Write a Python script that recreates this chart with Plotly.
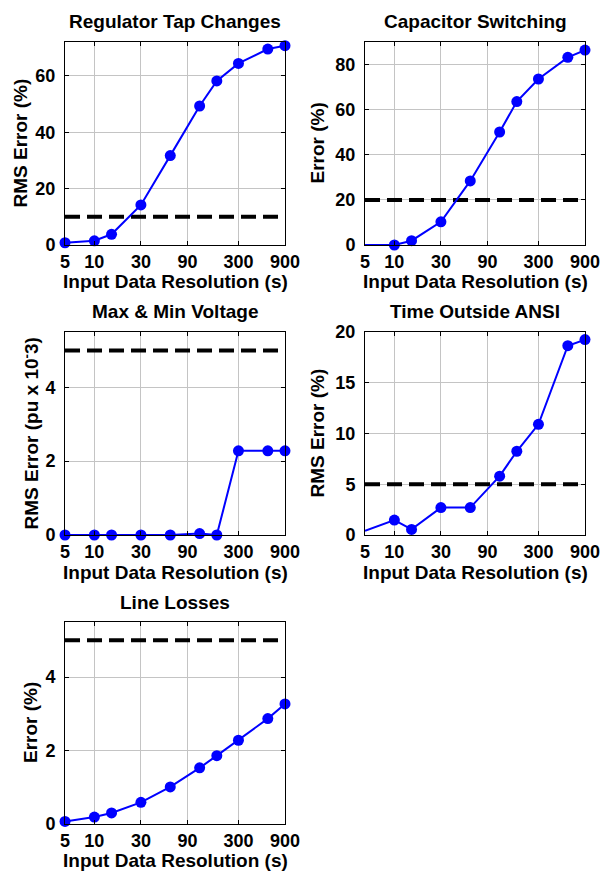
import math
import plotly.graph_objects as go

# ---------------- data ----------------
resolution_s = [5, 10, 15, 30, 60, 120, 180, 300, 600, 900]
x_tick_vals = [5, 10, 30, 90, 300, 900]
x_tick_text = ["5", "10", "30", "90", "300", "900"]

titles = ["Regulator Tap Changes", "Capacitor Switching", "Max & Min Voltage",
          "Time Outside ANSI", "Line Losses"]
y_titles = ["RMS Error (%)", "Error (%)", "RMS Error (pu x 10<sup>-</sup>3)",
            "RMS Error (%)", "Error (%)"]
x_title = "Input Data Resolution (s)"

regulator_tap = [0.8, 1.5, 3.8, 14.2, 31.7, 49.3, 58.2, 64.4, 69.5, 70.7]
capacitor_sw = [0.0, 0.0, 1.9, 10.3, 28.4, 50.1, 63.6, 73.6, 83.2, 86.4]
max_min_volt = [0.0, 0.0, 0.0, 0.0, 0.0, 0.04, 0.0, 2.28, 2.28, 2.28]
time_outside = [0.42, 1.47, 0.55, 2.7, 2.7, 5.8, 8.25, 10.9, 18.65, 19.25]
line_losses = [0.07, 0.19, 0.30, 0.59, 1.01, 1.53, 1.86, 2.28, 2.87, 3.27]
series = [regulator_tap, capacitor_sw, max_min_volt, time_outside, line_losses]

thresholds = [10, 20, 5, 5, 5]
y_ranges = [[0, 72], [0, 90], [0, 5.5], [0, 20], [0, 5.5]]
y_tick_vals = [[0, 20, 40, 60], [0, 20, 40, 60, 80], [0, 2, 4],
               [0, 5, 10, 15, 20], [0, 2, 4]]

# ---------------- style / layout ----------------
W, H = 601, 871
show_first_marker = [True, False, True, False, True]
col_px = [(65, 285), (365, 585)]
row_px = [(42, 245), (332, 535), (622, 824)]
xtitle_gap = [37, 37, 37, 37, 36]
ytitle_x = [20, 317, 30, 317, 30]
FONT = "Liberation Sans, Arial, sans-serif"
BLUE = "#0000FF"

fig = go.Figure()
annotations = []
layout_axes = {}
x_lo = math.log10(resolution_s[0]) - 1e-4
x_hi = math.log10(resolution_s[-1]) + 1e-4

for i in range(5):
    r, c = divmod(i, 2)
    x0, x1 = col_px[c]
    ytop, ybot = row_px[r]
    xd = [x0 / W, x1 / W]
    yd = [1 - ybot / H, 1 - ytop / H]
    n = i + 1
    xa = "xaxis" if n == 1 else f"xaxis{n}"
    ya = "yaxis" if n == 1 else f"yaxis{n}"
    xr = "x" if n == 1 else f"x{n}"
    yr = "y" if n == 1 else f"y{n}"

    common = dict(showline=True, linecolor="black", linewidth=1, mirror="allticks",
                  ticks="inside", ticklen=4, tickcolor="black", tickwidth=1,
                  showgrid=True, gridcolor="#c4c4c4", gridwidth=1, zeroline=False,
                  automargin=False,
                  tickfont=dict(family=FONT, size=18, color="black", weight="bold"))
    layout_axes[xa] = dict(common, domain=xd, anchor=yr, type="log",
                           range=[x_lo, x_hi],
                           tickvals=x_tick_vals, ticktext=x_tick_text,
                           ticklabelstandoff=0)
    layout_axes[ya] = dict(common, domain=yd, anchor=xr, range=y_ranges[i],
                           tickvals=y_tick_vals[i], ticklabelstandoff=5)

    sizes = [11] * len(resolution_s)
    if not show_first_marker[i]:
        sizes[0] = 0
    # threshold dashed line
    fig.add_trace(go.Scatter(x=[resolution_s[0], resolution_s[-1]],
                             y=[thresholds[i], thresholds[i]], mode="lines",
                             line=dict(color="black", width=4, dash="15px,7px"),
                             xaxis=xr, yaxis=yr, showlegend=False, hoverinfo="skip",
                             cliponaxis=False))
    fig.add_trace(go.Scatter(x=resolution_s, y=series[i], mode="lines+markers",
                             line=dict(color=BLUE, width=2),
                             marker=dict(color=BLUE, size=sizes, symbol="circle",
                                         opacity=1, line=dict(width=0)),
                             xaxis=xr, yaxis=yr, showlegend=False, cliponaxis=False))

    # titles
    annotations.append(dict(text=titles[i], x=(x0 + x1) / 2 / W, y=1 - (ytop - 20) / H,
                            xref="paper", yref="paper", showarrow=False,
                            xanchor="center", yanchor="middle",
                            font=dict(family=FONT, size=19, color="black", weight="bold")))
    annotations.append(dict(text=x_title, x=(x0 + x1) / 2 / W,
                            y=1 - (ybot + xtitle_gap[i]) / H,
                            xref="paper", yref="paper", showarrow=False,
                            xanchor="center", yanchor="middle",
                            font=dict(family=FONT, size=19, color="black", weight="bold")))
    annotations.append(dict(text=y_titles[i], x=ytitle_x[i] / W, y=1 - (ytop + ybot) / 2 / H,
                            xref="paper", yref="paper", showarrow=False, textangle=-90,
                            xanchor="center", yanchor="middle",
                            font=dict(family=FONT, size=19, color="black", weight="bold")))

fig.update_layout(width=W, height=H, margin=dict(l=0, r=0, t=0, b=0, pad=0),
                  paper_bgcolor="white", plot_bgcolor="white",
                  annotations=annotations, **layout_axes)

fig.write_html("out.html", config={"displayModeBar": False},
               post_script="document.body.style.margin='0px';"
                           "document.body.style.overflow='hidden';")
